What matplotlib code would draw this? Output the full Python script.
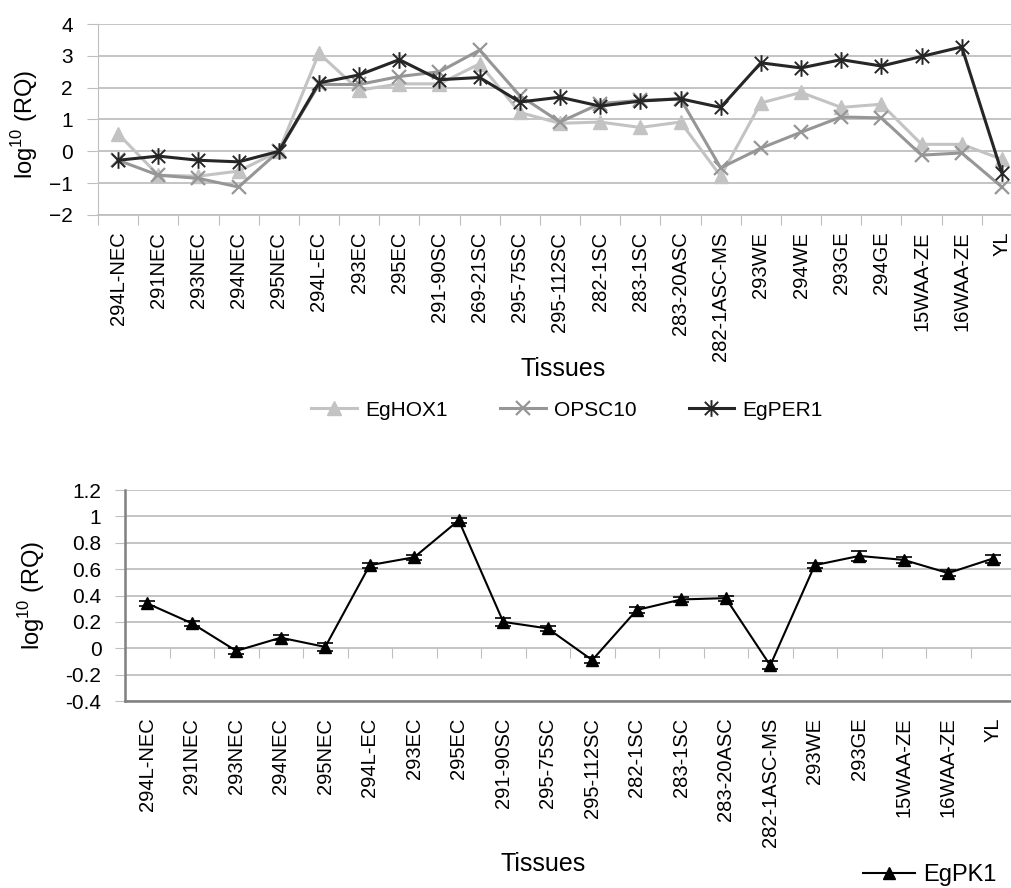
import numpy as np
import matplotlib.pyplot as plt
from matplotlib.path import Path
from matplotlib.lines import Line2D

plt.rcParams['font.family'] = ['Liberation Sans', 'DejaVu Sans']
plt.rcParams['mathtext.fontset'] = 'custom'
plt.rcParams['mathtext.rm'] = 'Liberation Sans'

# top panel: three genes over 23 tissues
tissues_top = ['294L-NEC', '291NEC', '293NEC', '294NEC', '295NEC', '294L-EC', '293EC',
               '295EC', '291-90SC', '269-21SC', '295-75SC', '295-112SC', '282-1SC',
               '283-1SC', '283-20ASC', '282-1ASC-MS', '293WE', '294WE', '293GE',
               '294GE', '15WAA-ZE', '16WAA-ZE', 'YL']
hox1 = [0.55, -0.75, -0.78, -0.62, 0.0, 3.08, 1.92, 2.12, 2.12, 2.75, 1.22, 0.88,
        0.92, 0.75, 0.92, -0.78, 1.52, 1.85, 1.38, 1.48, 0.22, 0.22, -0.25]
opsc10 = [-0.28, -0.75, -0.85, -1.12, 0.0, 2.1, 2.1, 2.35, 2.5, 3.18, 1.75, 0.92,
          1.5, 1.6, 1.65, -0.52, 0.1, 0.6, 1.08, 1.05, -0.12, -0.05, -1.12]
per1 = [-0.28, -0.15, -0.28, -0.33, 0.0, 2.15, 2.4, 2.88, 2.25, 2.32, 1.55, 1.7,
        1.42, 1.58, 1.65, 1.38, 2.78, 2.62, 2.88, 2.68, 2.98, 3.28, -0.68]

# bottom panel: EgPK1 over 20 tissues
tissues_bottom = ['294L-NEC', '291NEC', '293NEC', '294NEC', '295NEC', '294L-EC', '293EC',
                  '295EC', '291-90SC', '295-75SC', '295-112SC', '282-1SC', '283-1SC',
                  '283-20ASC', '282-1ASC-MS', '293WE', '293GE', '15WAA-ZE', '16WAA-ZE', 'YL']
pk1 = [0.34, 0.19, -0.02, 0.08, 0.01, 0.63, 0.69, 0.97, 0.2, 0.15, -0.09, 0.29,
       0.37, 0.38, -0.13, 0.63, 0.7, 0.67, 0.57, 0.68]
pk1_err = [0.02, 0.02, 0.02, 0.02, 0.03, 0.02, 0.02, 0.02, 0.03, 0.02, 0.02, 0.02,
           0.02, 0.02, 0.03, 0.02, 0.035, 0.02, 0.02, 0.03]

# Excel style asterisk marker
star = Path([(0, -1), (0, 1), (-0.8, -0.8), (0.8, 0.8), (-0.8, 0.8), (0.8, -0.8)],
            [Path.MOVETO, Path.LINETO] * 3)

W, H = 1011, 888
fig = plt.figure(figsize=(W / 100, H / 100), dpi=100)


def px_axes(left, top, right, bottom):
    return fig.add_axes([left / W, 1 - bottom / H, (right - left) / W, (bottom - top) / H])


grid_c = '#bfbfbf'
ylab = r'log$^{\mathrm{10}}$ (RQ)'

# ---- top chart ----
ax1 = px_axes(98, 24, 1022, 215)
x1 = np.arange(len(tissues_top))
ax1.plot(x1, hox1, color='#c3c3c3', lw=2.2, marker='^', ms=10, label='EgHOX1')
ax1.plot(x1, opsc10, color='#969696', lw=2.2, marker='x', ms=10, mew=1.6, label='OPSC10')
ax1.plot(x1, per1, color='#262626', lw=2.2, marker=star, ms=12, mew=1.4, label='EgPER1')

ax1.set_xlim(-0.5, len(tissues_top) - 0.5)
ax1.set_ylim(-2, 4)
ax1.set_yticks(range(-2, 5))
ax1.set_xticks(np.arange(len(tissues_top) + 1) - 0.5)
ax1.set_xticklabels([])
ax1.set_xticks(x1, minor=True)
ax1.set_xticklabels(tissues_top, minor=True, rotation=90, fontsize=14.5)
ax1.tick_params(axis='x', which='major', length=7, color=grid_c)
ax1.tick_params(axis='x', which='minor', length=0, pad=12)
ax1.tick_params(axis='y', length=8, color=grid_c, labelsize=15, pad=10)
ax1.grid(axis='y', color=grid_c, lw=1.3)
ax1.set_axisbelow(True)
for s in ['top', 'right']:
    ax1.spines[s].set_visible(False)
ax1.spines['left'].set_color(grid_c)
ax1.spines['bottom'].set_color(grid_c)
ax1.spines['bottom'].set_linewidth(1.3)

fig.text(25 / W, 1 - 124 / H, ylab, rotation=90, ha='center', va='center', fontsize=17)
fig.text(563 / W, 1 - 369 / H, 'Tissues', ha='center', va='center', fontsize=18)

h, l = ax1.get_legend_handles_labels()
fig.legend(h, l, loc='center', bbox_to_anchor=(567 / W, 1 - 410 / H), ncol=3,
           frameon=False, fontsize=15, handlelength=2.2, columnspacing=2.5,
           handletextpad=0.4)

# ---- bottom chart ----
ax2 = px_axes(125, 490, 1015, 701)
x2 = np.arange(len(tissues_bottom))
ax2.errorbar(x2, pk1, yerr=pk1_err, color='black', lw=1.5, marker='^', ms=9,
             capsize=6, elinewidth=1.2, capthick=1.2)

ax2.set_xlim(-0.5, len(tissues_bottom) - 0.5)
ax2.set_ylim(-0.4, 1.2)
yt = np.round(np.arange(-0.4, 1.21, 0.2), 1)
ax2.set_yticks(yt)
ax2.set_yticklabels(['%g' % v for v in yt])
ax2.set_xticks(x2)
ax2.set_xticklabels(tissues_bottom, rotation=90, fontsize=14.5)
ax2.tick_params(axis='x', length=0, pad=12)
ax2.tick_params(axis='y', length=7, color=grid_c, labelsize=15, pad=10)
ax2.grid(axis='y', color=grid_c, lw=1.3)
ax2.set_axisbelow(True)
for s in ['top', 'right']:
    ax2.spines[s].set_visible(False)
for s in ['left', 'bottom']:
    ax2.spines[s].set_color('#808080')
    ax2.spines[s].set_linewidth(1.8)

# category ticks sit on the zero line
sec = ax2.secondary_xaxis(0.4 / 1.6)
sec.set_xticks(np.arange(len(tissues_bottom) + 1) - 0.5)
sec.set_xticklabels([])
sec.tick_params(length=7, color=grid_c)
for s in sec.spines.values():
    s.set_visible(False)

fig.text(32 / W, 1 - 595 / H, ylab, rotation=90, ha='center', va='center', fontsize=17)
fig.text(543 / W, 1 - 864 / H, 'Tissues', ha='center', va='center', fontsize=18)

pk_handle = Line2D([], [], color='black', lw=1.5, marker='^', ms=9)
fig.legend([pk_handle], ['EgPK1'], loc='center left', bbox_to_anchor=(863 / W, 1 - 875 / H),
           frameon=False, fontsize=17, handlelength=2.2, handletextpad=0.35,
           borderpad=0, borderaxespad=0)

fig.savefig('out.png', dpi=100)
